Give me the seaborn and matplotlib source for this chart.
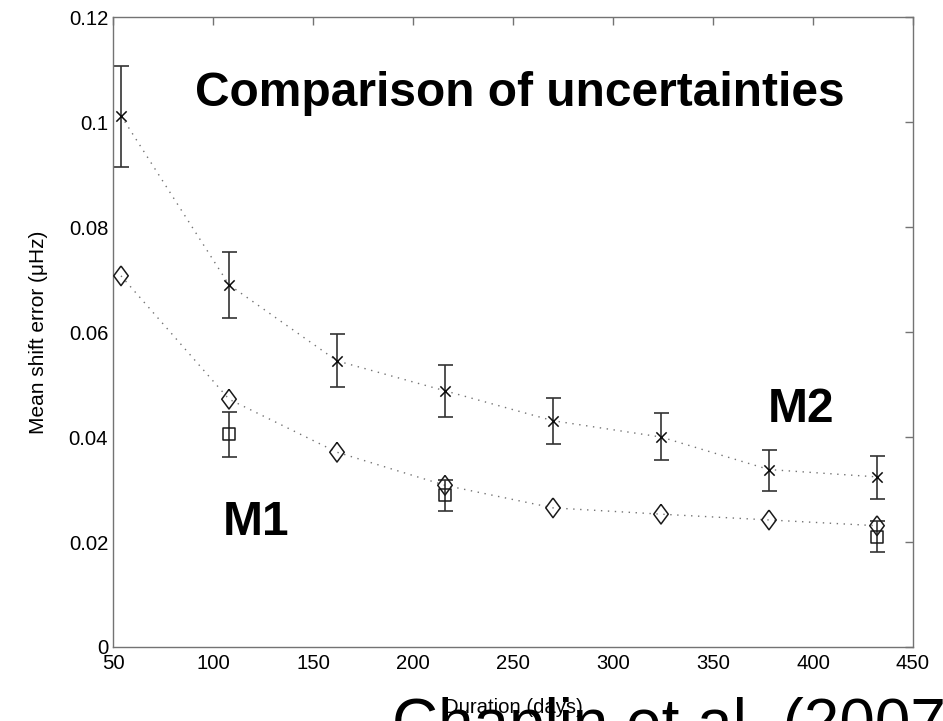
import matplotlib
matplotlib.use("Agg")
import matplotlib.pyplot as plt
import matplotlib.ticker as mticker
import numpy as np
import pandas as pd
import seaborn as sns

# ---- data ----
days = [54, 108, 162, 216, 270, 324, 378, 432]
m2_mean = [0.1012, 0.0690, 0.0545, 0.0488, 0.0431, 0.0400, 0.0338, 0.0324]
m2_low = [0.0915, 0.0626, 0.0495, 0.0439, 0.0386, 0.0356, 0.0297, 0.0282]
m2_high = [0.1107, 0.0753, 0.0596, 0.0537, 0.0474, 0.0446, 0.0375, 0.0364]
m1_mean = [0.0707, 0.0472, 0.0371, 0.0308, 0.0265, 0.0253, 0.0242, 0.0231]
sq_days = [108, 216, 432]
sq_mean = [0.0405, 0.0289, 0.0209]
sq_low = [0.0361, 0.0259, 0.0181]
sq_high = [0.0448, 0.0319, 0.0240]
xticks = [50, 100, 150, 200, 250, 300, 350, 400, 450]
yticks = [0, 0.02, 0.04, 0.06, 0.08, 0.10, 0.12]
title_text = "Comparison of uncertainties"
label_m1 = "M1"
label_m2 = "M2"
xlabel = "Duration (days)"
ylabel = "Mean shift error (\u03bcHz)"
credit = "Chaplin et al. (2007)"

sns.set_style("white")
plt.rcParams["font.family"] = ["Liberation Sans", "DejaVu Sans"]
plt.rcParams["text.color"] = "black"
plt.rcParams["axes.labelcolor"] = "black"
plt.rcParams["xtick.color"] = "black"
plt.rcParams["ytick.color"] = "black"

W, H = 943, 721
fig = plt.figure(figsize=(W / 100, H / 100), dpi=100)
ax = fig.add_axes([113 / W, 1 - 647 / H, 800 / W, 630 / H])

gray = "0.45"
dot_style = (0, (1.0, 4.0))

df2 = pd.DataFrame({"days": days, "err": m2_mean})
df1 = pd.DataFrame({"days": days, "err": m1_mean})
dfs = pd.DataFrame({"days": sq_days, "err": sq_mean})

sns.lineplot(data=df2, x="days", y="err", ax=ax, color=gray, lw=1.0,
             linestyle=dot_style, zorder=1)
sns.lineplot(data=df1, x="days", y="err", ax=ax, color=gray, lw=1.0,
             linestyle=dot_style, zorder=1)

m2_err = [np.array(m2_mean) - np.array(m2_low), np.array(m2_high) - np.array(m2_mean)]
sq_err = [np.array(sq_mean) - np.array(sq_low), np.array(sq_high) - np.array(sq_mean)]
ax.errorbar(days, m2_mean, yerr=m2_err, fmt="none", ecolor="0.2",
            elinewidth=1.2, capsize=5.4, capthick=1.2, zorder=2)
ax.errorbar(sq_days, sq_mean, yerr=sq_err, fmt="none", ecolor="0.2",
            elinewidth=1.2, capsize=5.4, capthick=1.2, zorder=2)

diamond = [(0, 1), (0.74, 0), (0, -1), (-0.74, 0), (0, 1)]
sns.scatterplot(data=df2, x="days", y="err", ax=ax, marker="x", s=55,
                color="0.05", linewidth=1.1, zorder=3)
sns.scatterplot(data=df1, x="days", y="err", ax=ax, marker=diamond, s=200,
                facecolor="none", edgecolor="0.1", linewidth=1.1, zorder=3)
sns.scatterplot(data=dfs, x="days", y="err", ax=ax, marker="s", s=76,
                facecolor="none", edgecolor="0.1", linewidth=1.1, zorder=3)

ax.set_xlim(50, 450)
ax.set_ylim(0, 0.12)
ax.set_xticks(xticks)
ax.set_yticks(yticks)
ax.yaxis.set_major_formatter(mticker.FormatStrFormatter("%g"))
ax.tick_params(direction="in", top=True, right=True, length=6, width=1.0,
               color=gray, labelsize=14.6, labelcolor="black")
ax.tick_params(axis="x", pad=5)
ax.tick_params(axis="y", pad=3.5)
for sp in ax.spines.values():
    sp.set_visible(True)
    sp.set_color(gray)
    sp.set_linewidth(1.0)

ax.set_xlabel(xlabel, fontsize=14.6, labelpad=18)
ax.set_ylabel(ylabel, fontsize=15, labelpad=15)

ax.text(91, 0.103, title_text, fontsize=34.5, fontweight="bold",
        ha="left", va="baseline", color="black")
ax.text(377.5, 0.0429, label_m2, fontsize=34.5, fontweight="bold",
        ha="left", va="baseline", color="black")
ax.text(105, 0.0213, label_m1, fontsize=34.5, fontweight="bold",
        ha="left", va="baseline", color="black")

fig.text(392 / W, 1 - 697 / H, credit, fontsize=46, ha="left", va="top",
         color="black")

fig.savefig("out.png", dpi=100)
